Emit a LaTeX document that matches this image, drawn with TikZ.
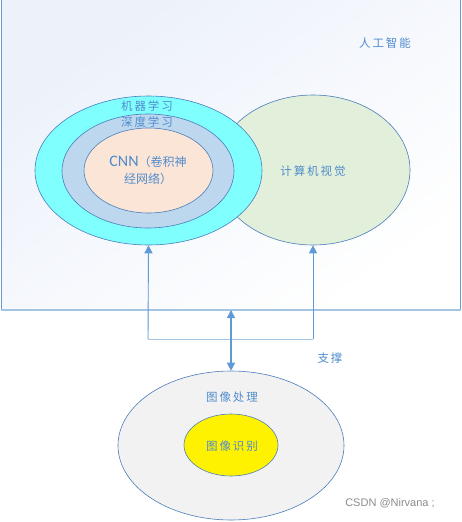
\documentclass[tikz,border=0pt]{standalone}
\usepackage{fontspec}
\setmainfont{Carlito}
\newfontfamily\cjk{Noto Sans CJK SC}
\newfontfamily\wmfont{Liberation Sans}
\usetikzlibrary{shapes.geometric,arrows.meta}
\definecolor{txtblue}{RGB}{80,140,205}
\definecolor{edgeblue}{RGB}{74,126,187}
\definecolor{linkblue}{RGB}{96,154,214}
\definecolor{lightlink}{RGB}{164,196,228}
\definecolor{mlfill}{RGB}{128,255,255}
\definecolor{dlfill}{RGB}{189,215,238}
\definecolor{cnnfill}{RGB}{251,229,214}
\definecolor{cvfill}{RGB}{226,239,218}
\definecolor{ipfill}{RGB}{242,242,242}
\definecolor{frametop}{RGB}{236,241,250}
\tikzset{
  blob/.style={ellipse, draw=edgeblue, line width=0.6pt, inner sep=0pt},
  lbl/.style={text=txtblue, font=\cjk\fontsize{11.5}{13}\selectfont, inner sep=0pt},
  link/.style={draw=linkblue, line width=0.9pt},
  tip/.style={-{Triangle[width=8pt,length=8pt]}},
}
\begin{document}
\begin{tikzpicture}[x=1pt,y=-1pt]
\useasboundingbox (0,0) rectangle (462,522);
\fill[white] (0,0) rectangle (462,522);
% frame
\shade[top color=frametop, bottom color=white, shading angle=35] (1,0) rectangle (460,310);
\draw[draw=edgeblue!80, line width=1pt] (1,0) -- (1,310);
\draw[draw=edgeblue!80, line width=1pt] (460,0) -- (460,310);
\draw[draw=lightlink, line width=1.8pt] (1,310) -- (461,310);
\node[lbl] (ai) at (385,43) {人\,工\,智\,能};
% ellipses
\node[blob, fill=cvfill, minimum width=194pt, minimum height=150pt] (cv) at (313,170) {};
\node[blob, fill=mlfill, minimum width=227pt, minimum height=149pt] (ml) at (148.5,170.5) {};
\node[blob, fill=dlfill, minimum width=172pt, minimum height=114pt] (dl) at (148,171) {};
\node[blob, fill=cnnfill, minimum width=129pt, minimum height=85pt] (cnn) at (148.5,170.5) {};
\node[lbl] (mllbl) at (147,106) {机\,器\,学\,习};
\node[lbl] (dllbl) at (147,122) {深\,度\,学\,习};
\node[lbl, align=center, font=\cjk\fontsize{12}{17}\selectfont] (cnnlbl) at (148,170) {{\fontspec{Carlito}\fontsize{16}{17}\selectfont CNN}（卷积神\\经网络）};
\node[lbl] (cvlbl) at (313,171) {计\,算\,机\,视\,觉};
% bottom ellipses
\node[blob, fill=ipfill, minimum width=226pt, minimum height=149pt] (ip) at (231,445.5) {};
\node[blob, fill=yellow, minimum width=94pt, minimum height=62pt] (ir) at (231,445) {};
\node[lbl] (iplbl) at (232,397) {图\,像\,处\,理};
\node[lbl] (irlbl) at (232,446) {图\,像\,识\,别};
\node[lbl] (supp) at (330,358) {支\,撑};
% connectors
\coordinate (jl) at (148,339);
\coordinate (jr) at (313,339);
\coordinate (fb) at (231,310);
\draw[draw=lightlink, line width=1pt] (jl) -- (jr);
\draw[link, tip, fill=linkblue] (jl) -- (ml.south);
\draw[link, tip, fill=linkblue] (jr) -- (cv.south);
\draw[draw=lightlink, line width=1.3pt] (fb) -- (231,339);
\draw[draw=linkblue, fill=linkblue, line width=1.3pt, {Triangle[width=8pt,length=8pt]}-{Triangle[width=8pt,length=8pt]}] (fb) -- (ip.north);
\draw[draw=linkblue, line width=1.3pt, shorten >=6pt] (231,339) -- (ip.north);
% watermark
\node[text=black!45, font=\wmfont\fontsize{11}{13}\selectfont, inner sep=0pt] (wm) at (390,503) {CSDN @Nirvana ;};
\end{tikzpicture}
\end{document}
